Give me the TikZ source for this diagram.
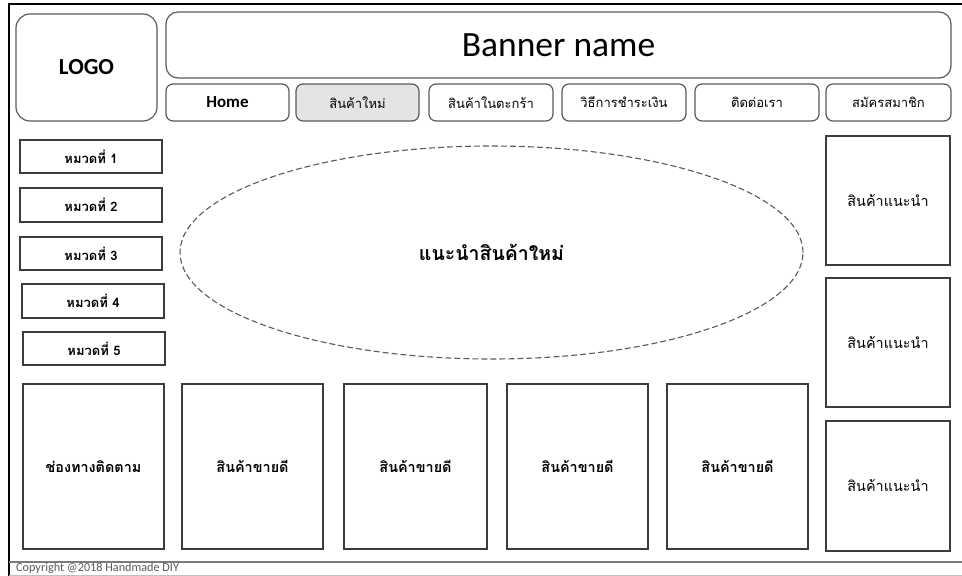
\documentclass[tikz,border=0pt]{standalone}
\usepackage{fontspec}
\setmainfont{Carlito}
\newfontfamily\thai[Script=Thai]{Loma}
\usetikzlibrary{shapes.geometric}

\definecolor{edge}{HTML}{5A5A5A}
\definecolor{darkedge}{HTML}{3C3C3C}
\definecolor{activefill}{HTML}{E4E4E4}

\tikzset{
  rbox/.style={draw=edge, line width=1.2pt, rounded corners=#1, inner sep=0pt, outer sep=0pt},
  rbox/.default=7pt,
  sbox/.style={draw=darkedge, line width=1.1pt, inner sep=0pt, outer sep=0pt},
  navbtn/.style={rbox=7pt, minimum width=124pt, minimum height=37pt, font=\thai\fontsize{13}{15}\selectfont},
  catbox/.style={sbox, minimum width=142pt, minimum height=33pt, font=\thai\bfseries\fontsize{13}{15}\selectfont},
  recbox/.style={sbox, minimum width=124pt, minimum height=129pt, font=\thai\fontsize{14.4}{16}\selectfont},
  bestbox/.style={sbox, minimum width=141pt, minimum height=165pt, font=\thai\bfseries\fontsize{14.4}{16}\selectfont},
}

\begin{document}
\begin{tikzpicture}[x=1pt, y=-1pt]
  \useasboundingbox (0,0) rectangle (962,576);

  % page frame
  \draw[black, line width=2.6pt] (9,4) -- (962,4);
  \draw[black, line width=2.6pt] (9,2.7) -- (9,576);

  % header
  \node[rbox=14pt, minimum width=141pt, minimum height=107pt,
        font=\bfseries\fontsize{23}{26}\selectfont] (logo) at (86.5,67.5) {LOGO};
  \node[rbox=12pt, minimum width=785pt, minimum height=66pt,
        font=\fontsize{35.5}{40}\selectfont] (banner) at (558.5,45) {Banner name};

  % navigation bar
  \node[navbtn, minimum width=123pt, font=\bfseries\fontsize{17}{20}\selectfont] (home) at (227.5,102.5) {Home};
  \node[navbtn, minimum width=123pt, fill=activefill] (newitems) at (357.5,102.5) {สินค้าใหม่};
  \node[navbtn] (cart) at (491,102.5) {สินค้าในตะกร้า};
  \node[navbtn] (payment) at (624,102.5) {วิธีการชำระเงิน};
  \node[navbtn] (contact) at (757,102.5) {ติดต่อเรา};
  \node[navbtn, minimum width=125pt] (signup) at (888.5,102.5) {สมัครสมาชิก};

  % category list
  \node[catbox] (cat1) at (91,156.5) {หมวดที่ 1};
  \node[catbox, minimum height=34pt] (cat2) at (91,205) {หมวดที่ 2};
  \node[catbox] (cat3) at (91,253.5) {หมวดที่ 3};
  \node[catbox, minimum height=34pt] (cat4) at (93,301) {หมวดที่ 4};
  \node[catbox] (cat5) at (94,348.5) {หมวดที่ 5};

  % featured area
  \node[ellipse, draw=edge, line width=1.1pt, dash pattern=on 6pt off 3pt,
        minimum width=623pt, minimum height=213pt, inner sep=0pt, outer sep=0pt,
        font=\thai\bfseries\fontsize{19.5}{22}\selectfont] (featured) at (491.5,252.5) {แนะนำสินค้าใหม่};

  % recommended column
  \node[recbox] (rec1) at (888,200.5) {สินค้าแนะนำ};
  \node[recbox] (rec2) at (888,342.5) {สินค้าแนะนำ};
  \node[recbox, minimum height=130pt] (rec3) at (888,486) {สินค้าแนะนำ};

  % bottom row
  \node[bestbox] (follow) at (93.5,466.5) {ช่องทางติดตาม};
  \node[bestbox] (best1) at (252.5,466.5) {สินค้าขายดี};
  \node[bestbox, minimum width=143pt] (best2) at (415.5,466.5) {สินค้าขายดี};
  \node[bestbox] (best3) at (577.5,466.5) {สินค้าขายดี};
  \node[bestbox] (best4) at (737.5,466.5) {สินค้าขายดี};

  % footer
  \draw[edge!80, line width=1.3pt] (9,562) -- (962,562);
  \draw[black!25, line width=1pt] (9,575.3) -- (962,575.3);
  \node[anchor=west, inner sep=0pt, text=black!65, font=\fontsize{12.2pt}{13pt}\selectfont] (copyright) at (16,568.8) {Copyright @2018 Handmade DIY};
\end{tikzpicture}
\end{document}
